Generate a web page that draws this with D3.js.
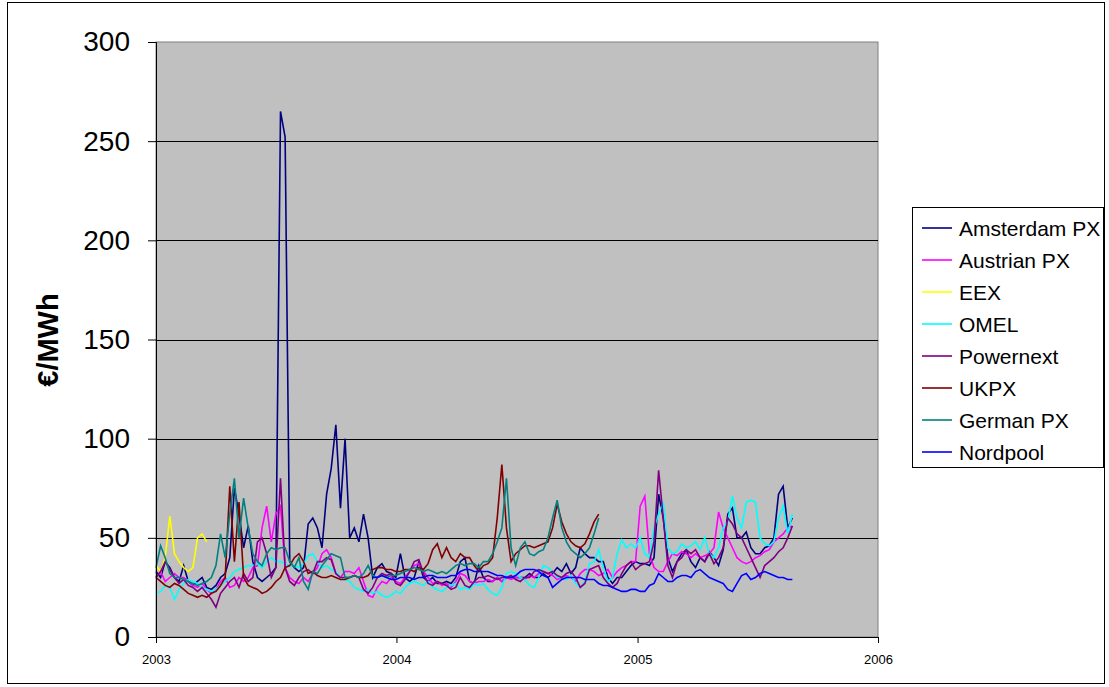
<!DOCTYPE html>
<html>
<head>
<meta charset="utf-8">
<script src="https://cdn.jsdelivr.net/npm/d3@7"></script>
<style>
  body { margin: 0; background: #ffffff; }
  svg { display: block; }
  text { font-family: Arial, "Liberation Sans", sans-serif; fill: #000; }
</style>
</head>
<body>
<svg id="chart" width="1109" height="687"></svg>
<script>
// Weekly spot prices, EUR/MWh, one value every 7 days from each series' start date
const seriesNames  = ["Amsterdam PX", "Austrian PX", "EEX", "OMEL", "Powernext", "UKPX", "German PX", "Nordpool"];
const seriesColors = ["#000080", "#FF00FF", "#FFFF00", "#00FFFF", "#800080", "#800000", "#008080", "#0000FF"];
const seriesStarts = ["2003-01-01", "2003-01-01", "2003-01-01", "2003-01-01", "2003-01-01", "2003-01-01", "2003-01-01", "2003-11-26"];

const amsterdamPX = [
  33, 30, 38, 35, 30, 28, 36, 28, 26, 28,
  30, 25, 24, 26, 30, 32, 40, 75, 62, 45,
  56, 38, 30, 28, 30, 32, 35, 265, 252, 38,
  35, 33, 35, 57, 60, 55, 45, 72, 85, 107,
  65, 100, 50, 55, 48, 62, 50, 30, 35, 37,
  33, 32, 30, 42, 30, 28, 30, 38, 30, 28,
  30, 27, 27, 28, 27, 30, 38, 40, 28, 27,
  36, 30, 28, 28, 30, 28, 30, 30, 30, 30,
  30, 32, 30, 30, 32, 30, 32, 35, 33, 37,
  32, 35, 45, 42, 40, 40, 38, 38, 30, 27,
  30, 30, 33, 36, 38, 37, 37, 36, 40, 72,
  60, 40, 33, 38, 42, 44, 38, 35, 40, 38,
  43, 40, 36, 44, 62, 65, 50, 50, 53, 45,
  42, 42, 45, 46, 50, 72, 76, 55, 60
];
const austrianPX = [
  30, 33, 28, 30, 32, 30, 30, 28, 26, 25,
  27, 24, 22, 24, 28, 30, 25, 26, 30, 28,
  30, 35, 36, 55, 66, 48, 62, 66, 35, 30,
  28, 27, 30, 28, 32, 35, 42, 44, 40, 32,
  30, 33, 33, 32, 35, 28, 21, 20, 25, 28,
  27, 30, 28, 27, 30, 33, 36, 37, 33, 30,
  27, 28, 26, 27, 25, 28, 32, 31, 28, 27,
  28, 28, 29, 28, 30, 28, 30, 29, 30, 30,
  29, 31, 30, 32, 33, 32, 31, 29, 30, 31,
  30, 28, 32, 34, 34, 33, 31, 32, 34, 30,
  33, 35, 36, 38, 38, 66, 71, 42, 35, 33,
  33, 38, 42, 41, 43, 42, 40, 42, 40, 41,
  42, 45, 63, 55, 50, 45, 40, 38, 37, 38,
  40, 41, 43, 44, 48, 50, 52, 55, 56
];
const eex = [36, 33, 40, 61, 42, 38, 35, 33, 35, 50, 52, 48];
const omel = [
  22, 23, 26, 25, 19, 24, 27, 29, 28, 27,
  25, 24, 23, 24, 26, 28, 30, 33, 34, 35,
  36, 36, 37, 35, 38, 40, 38, 38, 37, 36,
  36, 35, 37, 41, 42, 38, 35, 36, 34, 33,
  30, 29, 28, 25, 24, 23, 24, 22, 23, 21,
  20, 21, 23, 22, 25, 27, 28, 27, 26, 28,
  25, 24, 23, 25, 26, 27, 24, 25, 24, 27,
  26, 27, 24, 22, 21, 25, 32, 33, 32, 30,
  29, 26, 25, 30, 36, 35, 33, 30, 30, 29,
  31, 27, 25, 28, 37, 38, 44, 35, 28, 30,
  42, 49, 45, 47, 45, 50, 42, 40, 55, 62,
  68, 45, 42, 43, 47, 45, 46, 48, 44, 50,
  42, 40, 45, 55, 58, 71, 60, 55, 68, 69,
  68, 50, 47, 46, 48, 60, 66, 52, 62
];
const powernext = [
  30, 33, 38, 34, 30, 27, 29, 26, 25, 23,
  25, 22, 19, 15, 22, 25, 28, 30, 25, 32,
  28, 30, 48, 50, 42, 30, 35, 80, 35, 28,
  26, 30, 33, 34, 32, 38, 38, 40, 39, 32,
  30, 30, 30, 31, 30, 24, 22, 25, 30, 32,
  31, 32, 27, 26, 29, 33, 38, 39, 32, 27,
  26, 28, 27, 26, 24, 25, 30, 26, 25, 28,
  30, 30, 31, 30, 29, 30, 30, 31, 29, 28,
  30, 30, 33, 34, 33, 32, 33, 31, 30, 32,
  33, 30, 25, 27, 34, 35, 36, 30, 27, 25,
  27, 32, 36, 38, 34, 36, 37, 38, 48, 84,
  60, 36, 30, 38, 40, 44, 42, 44, 40, 38,
  42, 37, 40, 45, 60, 57, 52, 50, 45, 40,
  35, 30, 36, 38, 40, 43, 45, 50, 56
];
const ukpx = [
  30, 28, 26, 25, 27, 26, 24, 22, 21, 20,
  21, 20, 22, 23, 26, 30, 76, 38, 68, 30,
  26, 25, 24, 22, 23, 25, 28, 30, 35, 36,
  40, 42, 38, 32, 33, 31, 30, 30, 31, 30,
  29, 29, 30, 31, 30, 30, 31, 34, 35, 35,
  34, 34, 33, 33, 34, 34, 33, 35, 34, 37,
  44, 47, 40, 45, 40, 38, 42, 40, 40, 36,
  33, 36, 37, 40, 60, 87, 55, 38, 42, 44,
  46, 46, 45, 46, 47, 48, 55, 67, 58, 52,
  48, 46, 45, 47, 52, 58, 62
];
const germanPX = [
  35, 46, 40, 32, 30, 30, 29, 28, 27, 26,
  27, 28, 30, 36, 52, 40, 62, 80, 50, 70,
  55, 42, 38, 36, 42, 45, 44, 45, 45, 38,
  35, 40, 28, 24, 33, 32, 36, 39, 42, 41,
  40, 30, 30, 31, 30, 32, 36, 31, 30, 31,
  30, 31, 31, 32, 33, 34, 35, 34, 33, 34,
  33, 32, 33, 32, 34, 36, 37, 36, 37, 37,
  35, 38, 38, 42, 48, 55, 80, 45, 36, 45,
  48, 42, 41, 43, 44, 50, 60, 69, 55, 48,
  44, 42, 40, 42, 45, 52, 60
];
const nordpool = [
  30, 30, 31, 30, 29, 29, 30, 30, 30, 29,
  30, 30, 31, 31, 30, 30, 30, 31, 31, 33,
  34, 34, 33, 33, 33, 33, 32, 31, 31, 30,
  30, 31, 33, 34, 34, 34, 33, 31, 30, 25,
  27, 29, 30, 30, 30, 30, 29, 29, 29, 27,
  26, 26, 25, 24, 23, 23, 24, 24, 23, 23,
  26, 27, 32, 30, 28, 28, 30, 31, 31, 30,
  33, 34, 32, 30, 29, 28, 27, 24, 23, 27,
  31, 32, 29, 30, 32, 33, 32, 31, 30, 30,
  29, 29
];
const seriesValues = [amsterdamPX, austrianPX, eex, omel, powernext, ukpx, germanPX, nordpool];

const yTicks = [0, 50, 100, 150, 200, 250, 300];
const gridValues = [50, 100, 150, 200, 250];
const xTickLabels = ["2003", "2004", "2005", "2006"];
const yTitle = "€/MWh";

// ---- layout ----
const plot = { left: 156, right: 878, top: 42, bottom: 637 };
const parse = d3.timeParse("%Y-%m-%d");

const x = d3.scaleTime()
  .domain([parse("2003-01-01"), parse("2006-01-01")])
  .range([plot.left, plot.right]);
const y = d3.scaleLinear()
  .domain([0, 300])
  .range([plot.bottom, plot.top]);

const svg = d3.select("#chart");

// chart frame
svg.append("rect")
  .attr("x", 7.5).attr("y", 2.5)
  .attr("width", 1097).attr("height", 681)
  .attr("fill", "#ffffff").attr("stroke", "#000").attr("stroke-width", 1);

// plot area
svg.append("rect")
  .attr("x", plot.left).attr("y", plot.top)
  .attr("width", plot.right - plot.left).attr("height", plot.bottom - plot.top)
  .attr("fill", "#C0C0C0").attr("stroke", "#808080").attr("stroke-width", 1);

// horizontal gridlines
svg.append("g").selectAll("line").data(gridValues).join("line")
  .attr("x1", plot.left).attr("x2", plot.right)
  .attr("y1", d => Math.round(y(d)) + 0.5).attr("y2", d => Math.round(y(d)) + 0.5)
  .attr("stroke", "#000").attr("stroke-width", 1);

// series
const line = d3.line()
  .x(d => x(d.date))
  .y(d => y(d.value));

const seriesData = seriesNames.map((name, k) => {
  const start = parse(seriesStarts[k]);
  return {
    name,
    color: seriesColors[k],
    points: seriesValues[k].map((v, i) => ({ date: d3.timeDay.offset(start, 7 * i), value: v }))
  };
});

svg.append("g").selectAll("path").data(seriesData).join("path")
  .attr("d", d => line(d.points))
  .attr("fill", "none")
  .attr("stroke", d => d.color)
  .attr("stroke-width", 1.6)
  .attr("stroke-linejoin", "miter");

// y axis
const yAxis = svg.append("g")
  .attr("transform", `translate(${plot.left},0)`)
  .call(d3.axisLeft(y).tickValues(yTicks).tickSize(8).tickPadding(18));
yAxis.selectAll("text").style("font-size", "28px");
yAxis.selectAll("line, path").attr("stroke", "#000");

// x axis
const xAxis = svg.append("g")
  .attr("transform", `translate(0,${plot.bottom})`)
  .call(d3.axisBottom(x)
    .tickValues(xTickLabels.map(t => parse(t + "-01-01")))
    .tickFormat(d3.timeFormat("%Y"))
    .tickSizeInner(6).tickSizeOuter(0).tickPadding(12));
xAxis.selectAll("text").style("font-size", "13px");
xAxis.selectAll("line, path").attr("stroke", "#000");

// y axis title
svg.append("text")
  .attr("transform", "translate(58,340) rotate(-90)")
  .attr("text-anchor", "middle")
  .style("font-size", "29px")
  .style("font-weight", "bold")
  .text(yTitle);

// legend
const legend = svg.append("g");
legend.append("rect")
  .attr("x", 912.5).attr("y", 207.5)
  .attr("width", 191).attr("height", 260)
  .attr("fill", "#fff").attr("stroke", "#000").attr("stroke-width", 1);

const rows = legend.selectAll("g.row").data(seriesData).join("g")
  .attr("class", "row")
  .attr("transform", (d, i) => `translate(0,${228 + i * 32})`);
rows.append("line")
  .attr("x1", 922).attr("x2", 952).attr("y1", 0).attr("y2", 0)
  .attr("stroke", d => d.color).attr("stroke-width", 1.6);
rows.append("text")
  .attr("x", 959).attr("y", 0).attr("dy", "0.36em")
  .style("font-size", "21px")
  .text(d => d.name);
</script>
</body>
</html>
